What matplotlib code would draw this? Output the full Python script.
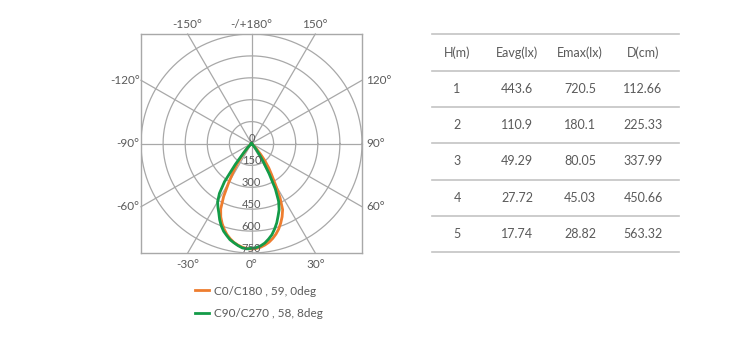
import numpy as np
import matplotlib
matplotlib.use("Agg")
import matplotlib.pyplot as plt
from matplotlib.lines import Line2D

# ------------------------
# data
# ------------------------
gamma = [0, 2.5, 5, 7.5, 10, 12.5, 15, 17.5, 20, 22.5, 25, 27.5, 30,
         32.5, 35, 37.5, 40, 42.5, 45, 47.5, 50]   # deg from nadir
c0_left = [722, 720, 713, 702, 688, 668, 645, 616, 583, 545, 495, 410, 310,
           230, 165, 110, 65, 30, 8, 0, 0]
c0_right = [722, 720, 713, 701, 686, 666, 642, 614, 580, 543, 500, 420, 325,
            255, 205, 150, 95, 50, 15, 3, 0]
c90_left = [718, 722, 718, 705, 690, 675, 652, 630, 600, 565, 525, 493, 460,
            405, 320, 180, 80, 40, 10, 0, 0]
c90_right = [718, 714, 704, 688, 665, 640, 606, 570, 528, 490, 435, 350, 240,
             150, 95, 55, 30, 12, 3, 0, 0]

ring_values = [150, 300, 450, 600, 750]
angle_ticks = [0, 30, 60, 90, 120, 150, 180, -150, -120, -90, -60, -30]
angle_labels = ["0°", "30°", "60°", "90°", "120°", "150°", "-/+180°",
                "-150°", "-120°", "-90°", "-60°", "-30°"]

legend_labels = ["C0/C180 , 59, 0deg", "C90/C270 , 58, 8deg"]

table_header = ["H(m)", "Eavg(lx)", "Emax(lx)", "D(cm)"]
table_h = ["1", "2", "3", "4", "5"]
table_eavg = ["443.6", "110.9", "49.29", "27.72", "17.74"]
table_emax = ["720.5", "180.1", "80.05", "45.03", "28.82"]
table_d = ["112.66", "225.33", "337.99", "450.66", "563.32"]

ORANGE = "#ee7d2f"
GREEN = "#139b48"
GRID = "#a8a8a8"
TXT = "#5a5a5a"
FONT = ["Lato", "DejaVu Sans"]

W, H = 745, 340
fig = plt.figure(figsize=(W / 100, H / 100), dpi=100)

# ------------------------
# polar diagram (drawn on a square cartesian axes)
# ------------------------
R = 750
ax = fig.add_axes([141 / W, 1 - 253 / H, 221 / W, 219 / H])
ax.set_xlim(-R, R)
ax.set_ylim(-R, R)
ax.set_aspect("auto")
ax.set_xticks([])
ax.set_yticks([])
for s in ax.spines.values():
    s.set_color(GRID)
    s.set_linewidth(1.0)

t = np.linspace(0, 2 * np.pi, 361)
for v in ring_values:
    ax.plot(v * np.cos(t), v * np.sin(t), color=GRID, lw=0.9, zorder=1)

for a, lab in zip(angle_ticks, angle_labels):
    ar = np.radians(a)
    dx, dy = np.sin(ar), -np.cos(ar)
    k = R / max(abs(dx), abs(dy))
    ex, ey = dx * k, dy * k
    ax.plot([0, ex], [0, ey], color=GRID, lw=0.9, zorder=1, clip_on=False)
    if abs(ey) >= R - 1e-6:
        ha, va = "center", ("top" if ey < 0 else "bottom")
        off = (0, -4 if ey < 0 else 3)
    else:
        ha, va = ("left" if ex > 0 else "right"), "center"
        off = (3 if ex > 0 else -1, 0)
    ax.annotate(lab, (ex, ey), xytext=off, textcoords="offset points",
                ha=ha, va=va, fontsize=8.5, color=TXT, family=FONT,
                annotation_clip=False)

# ring value labels
for v in [0] + ring_values:
    ax.text(0, -v + 32, str(v), ha="center", va="center", fontsize=8,
            color=TXT, family=FONT, zorder=5)


def curve(left, right):
    g = np.radians(np.concatenate([-np.array(gamma[::-1]), np.array(gamma[1:])]))
    i = np.concatenate([np.array(left[::-1]), np.array(right[1:])])
    return i * np.sin(g), -i * np.cos(g)


x0, y0 = curve(c0_left, c0_right)
x9, y9 = curve(c90_left, c90_right)
ax.plot(x0, y0, color=ORANGE, lw=2.0, zorder=3, solid_joinstyle="round")
ax.plot(x9, y9, color=GREEN, lw=2.0, zorder=4, solid_joinstyle="round")

# legend
handles = [Line2D([], [], color=ORANGE, lw=2.0), Line2D([], [], color=GREEN, lw=2.0)]
leg = fig.legend(handles, legend_labels, loc="upper left",
                 bbox_to_anchor=(184 / W, 1 - 275 / H), frameon=False,
                 handlelength=1.2, handletextpad=0.4, labelspacing=0.95,
                 prop={"family": FONT, "size": 8.5})
for txt in leg.get_texts():
    txt.set_color(TXT)

# ------------------------
# table
# ------------------------
x_left, x_right = 432 / W, 679 / W
line_y = [34, 70.5, 107, 143.3, 179.5, 215.7, 251.7]
col_x = [457, 517, 580, 643]
rows = [table_header] + [list(r) for r in zip(table_h, table_eavg, table_emax, table_d)]

for y in line_y:
    fig.add_artist(Line2D([x_left, x_right], [1 - y / H, 1 - y / H],
                          color="#c4c4c4", lw=1.2))
for r, row in enumerate(rows):
    yc = (line_y[r] + line_y[r + 1]) / 2
    for c, val in enumerate(row):
        fig.text(col_x[c] / W, 1 - yc / H, val, ha="center", va="center",
                 fontsize=9, color=TXT, family=FONT)

fig.savefig("out.png", dpi=100)
